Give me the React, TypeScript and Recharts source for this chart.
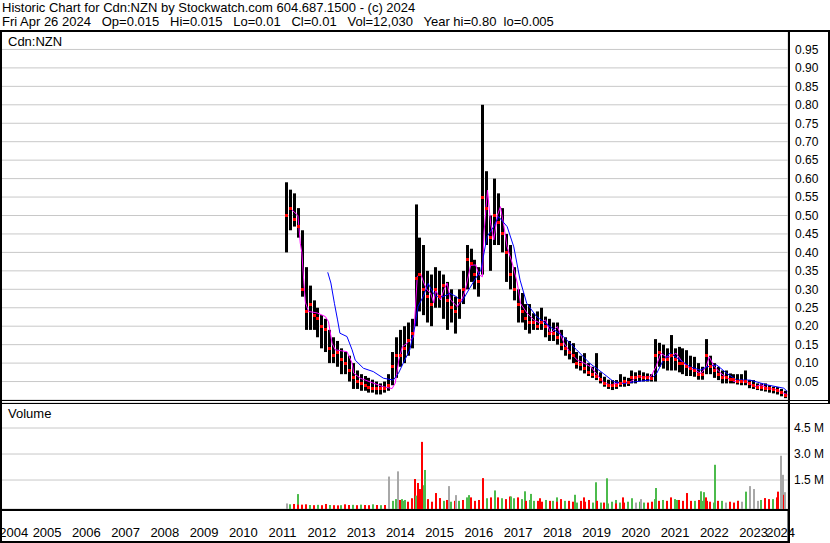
import React from 'react';
import { ComposedChart, Bar, Line, Scatter, XAxis, YAxis, CartesianGrid } from 'recharts';

const FONT = '"Liberation Sans", Arial, Helvetica, sans-serif';

const HEADER_LINE_1 = 'Historic Chart for Cdn:NZN by Stockwatch.com 604.687.1500 - (c) 2024';
const HEADER_LINE_2 = 'Fri Apr 26 2024   Op=0.015   Hi=0.015   Lo=0.01   Cl=0.01   Vol=12,030   Year hi=0.80  lo=0.005';
const PRICE_LABEL = 'Cdn:NZN';
const VOLUME_LABEL = 'Volume';

const T_START = 2004.3;
const T_END = 2024.376;
const YEAR_LINES = [2005, 2006, 2007, 2008, 2009, 2010, 2011, 2012, 2013, 2014, 2015, 2016, 2017, 2018, 2019, 2020, 2021, 2022, 2023, 2024];
const YEAR_LABELS = [2004, 2005, 2006, 2007, 2008, 2009, 2010, 2011, 2012, 2013, 2014, 2015, 2016, 2017, 2018, 2019, 2020, 2021, 2022, 2023, 2024];
const PRICE_TICKS = [0.05, 0.1, 0.15, 0.2, 0.25, 0.3, 0.35, 0.4, 0.45, 0.5, 0.55, 0.6, 0.65, 0.7, 0.75, 0.8, 0.85, 0.9, 0.95];
const VOL_TICKS = [1.5, 3.0, 4.5];
const VOL_MIN = -0.17;
const VOL_MAX = 6;

// price periods (every 0.1 year from 2011.6)
const PERIOD_START = 2011.6;
const PERIOD_STEP = 0.1;
const HIGH = [
  0.59, 0.57, 0.56, 0.52,
  0.46, 0.36, 0.31, 0.27, 0.25, 0.23, 0.22, 0.19, 0.17, 0.16,
  0.14, 0.13, 0.12, 0.10, 0.08, 0.07, 0.065, 0.06, 0.055, 0.05,
  0.045, 0.05, 0.07, 0.13, 0.17, 0.19, 0.20, 0.21, 0.22, 0.53,
  0.44, 0.42, 0.35, 0.34, 0.36, 0.35, 0.34, 0.32, 0.30, 0.28,
  0.30, 0.35, 0.42, 0.41, 0.38, 0.36, 0.80, 0.62, 0.50, 0.60,
  0.56, 0.52, 0.45, 0.42, 0.36, 0.30, 0.29, 0.26, 0.26, 0.235,
  0.24, 0.25, 0.226, 0.22, 0.21, 0.21, 0.19, 0.17, 0.16, 0.154,
  0.13, 0.12, 0.127, 0.10, 0.09, 0.127, 0.075, 0.063, 0.055, 0.054,
  0.054, 0.07, 0.063, 0.06, 0.08, 0.075, 0.08, 0.075, 0.072, 0.07,
  0.165, 0.155, 0.15, 0.14, 0.176, 0.14, 0.144, 0.14, 0.135, 0.12,
  0.117, 0.10, 0.09, 0.165, 0.12, 0.10, 0.09, 0.08, 0.08, 0.072,
  0.07, 0.07, 0.07, 0.08, 0.054, 0.054, 0.045, 0.045, 0.045, 0.04,
  0.036, 0.035, 0.03, 0.025,
];
const LOW = [
  0.40, 0.46, 0.47, 0.44,
  0.28, 0.19, 0.19, 0.19, 0.17, 0.14, 0.13, 0.10, 0.10, 0.09,
  0.07, 0.07, 0.05, 0.03, 0.03, 0.025, 0.025, 0.02, 0.02, 0.015,
  0.015, 0.02, 0.025, 0.04, 0.06, 0.09, 0.10, 0.12, 0.14, 0.20,
  0.24, 0.23, 0.21, 0.20, 0.25, 0.25, 0.22, 0.19, 0.21, 0.18,
  0.22, 0.26, 0.30, 0.32, 0.30, 0.28, 0.34, 0.42, 0.35, 0.42,
  0.42, 0.40, 0.32, 0.30, 0.27, 0.21, 0.21, 0.19, 0.18, 0.19,
  0.19, 0.19, 0.17, 0.16, 0.16, 0.15, 0.135, 0.12, 0.11, 0.10,
  0.085, 0.08, 0.072, 0.065, 0.06, 0.054, 0.045, 0.036, 0.03, 0.027,
  0.03, 0.036, 0.036, 0.038, 0.045, 0.045, 0.05, 0.05, 0.05, 0.05,
  0.05, 0.09, 0.085, 0.08, 0.08, 0.08, 0.075, 0.07, 0.065, 0.065,
  0.063, 0.055, 0.055, 0.07, 0.07, 0.06, 0.054, 0.045, 0.045, 0.045,
  0.045, 0.042, 0.04, 0.04, 0.032, 0.03, 0.027, 0.025, 0.023, 0.02,
  0.018, 0.015, 0.01, 0.005,
];
const CLOSE = [
  0.50, 0.52, 0.49, 0.47,
  0.30, 0.24, 0.26, 0.23, 0.22, 0.20, 0.19, 0.14, 0.12, 0.13,
  0.11, 0.10, 0.08, 0.06, 0.05, 0.045, 0.04, 0.035, 0.03, 0.03,
  0.03, 0.03, 0.04, 0.09, 0.12, 0.12, 0.14, 0.16, 0.18, 0.33,
  0.34, 0.30, 0.28, 0.26, 0.30, 0.28, 0.31, 0.27, 0.25, 0.24,
  0.27, 0.30, 0.38, 0.37, 0.34, 0.32, 0.55, 0.52, 0.44, 0.50,
  0.48, 0.45, 0.40, 0.34, 0.30, 0.26, 0.24, 0.22, 0.21, 0.21,
  0.20, 0.21, 0.20, 0.18, 0.18, 0.17, 0.15, 0.14, 0.13, 0.12,
  0.10, 0.095, 0.085, 0.075, 0.07, 0.065, 0.055, 0.045, 0.04, 0.04,
  0.04, 0.045, 0.05, 0.048, 0.06, 0.06, 0.065, 0.06, 0.06, 0.058,
  0.12, 0.13, 0.11, 0.11, 0.12, 0.11, 0.10, 0.10, 0.09, 0.085,
  0.08, 0.07, 0.07, 0.12, 0.09, 0.08, 0.07, 0.06, 0.06, 0.055,
  0.055, 0.05, 0.05, 0.05, 0.045, 0.04, 0.035, 0.035, 0.032, 0.03,
  0.028, 0.025, 0.02, 0.012,
];

// magenta (short) moving average
const MA_FAST_T = [
  2011.74, 2011.89, 2011.95, 2011.99, 2012.04, 2012.08, 2012.16, 2012.38, 2012.59, 2012.67,
  2012.76, 2012.84, 2013.14, 2013.27, 2013.31, 2013.48, 2013.73, 2014.06, 2014.29, 2014.37,
  2014.46, 2014.55, 2014.67, 2014.84, 2014.93, 2015.01, 2015.10, 2015.18, 2015.27, 2015.35,
  2015.40, 2015.52, 2015.61, 2015.69, 2015.78, 2015.95, 2016.08, 2016.16, 2016.29, 2016.42,
  2016.50, 2016.59, 2016.63, 2016.72, 2016.80, 2016.88, 2016.97, 2017.05, 2017.14, 2017.22,
  2017.35, 2017.48, 2017.56, 2017.73, 2017.90, 2018.07, 2018.20, 2018.33, 2018.50, 2018.67,
  2018.84, 2019.01, 2019.18, 2019.35, 2019.52, 2019.69, 2019.86, 2020.03, 2020.20, 2020.37,
  2020.54, 2020.71, 2020.88, 2021.01, 2021.14, 2021.27, 2021.39, 2021.52, 2021.65, 2021.82,
  2021.99, 2022.16, 2022.29, 2022.37, 2022.50, 2022.67, 2022.84, 2023.01, 2023.18, 2023.35,
  2023.52, 2023.69, 2023.86, 2024.11, 2024.28, 2024.37,
];
const MA_FAST_V = [
  0.515, 0.50, 0.425, 0.40, 0.32, 0.265, 0.24, 0.236, 0.226, 0.212,
  0.154, 0.136, 0.131, 0.10, 0.073, 0.059, 0.049, 0.036, 0.031, 0.046,
  0.108, 0.144, 0.154, 0.171, 0.334, 0.344, 0.317, 0.298, 0.29, 0.263,
  0.298, 0.271, 0.298, 0.317, 0.271, 0.253, 0.275, 0.30, 0.365, 0.366,
  0.34, 0.334, 0.452, 0.569, 0.479, 0.434, 0.50, 0.524, 0.47, 0.415,
  0.371, 0.317, 0.262, 0.235, 0.217, 0.208, 0.217, 0.181, 0.199, 0.154,
  0.127, 0.108, 0.10, 0.09, 0.068, 0.046, 0.041, 0.046, 0.046, 0.05,
  0.063, 0.063, 0.063, 0.09, 0.127, 0.117, 0.117, 0.127, 0.108, 0.09,
  0.081, 0.072, 0.09, 0.117, 0.09, 0.072, 0.059, 0.05, 0.054, 0.047,
  0.036, 0.041, 0.032, 0.027, 0.018, 0.014,
];

// blue (long) moving average
const MA_SLOW_T = [
  2012.65, 2012.73, 2012.82, 2012.90, 2012.96, 2013.14, 2013.27, 2013.35, 2013.56, 2013.81,
  2014.07, 2014.32, 2014.45, 2014.57, 2014.74, 2014.87, 2014.95, 2015.08, 2015.21, 2015.34,
  2015.42, 2015.59, 2015.76, 2015.93, 2016.06, 2016.25, 2016.42, 2016.55, 2016.71, 2016.88,
  2017.00, 2017.22, 2017.39, 2017.55, 2017.72, 2017.97, 2018.31, 2018.65, 2018.99, 2019.33,
  2019.67, 2019.93, 2020.18, 2020.52, 2020.86, 2021.03, 2021.20, 2021.37, 2021.63, 2021.88,
  2022.14, 2022.31, 2022.56, 2022.82, 2023.07, 2023.41, 2023.84, 2024.27, 2024.36,
];
const MA_SLOW_V = [
  0.346, 0.317, 0.262, 0.217, 0.181, 0.172, 0.136, 0.108, 0.086, 0.077,
  0.059, 0.054, 0.072, 0.099, 0.136, 0.199, 0.253, 0.28, 0.316, 0.289,
  0.28, 0.28, 0.289, 0.28, 0.265, 0.30, 0.33, 0.352, 0.443, 0.47,
  0.497, 0.47, 0.415, 0.325, 0.262, 0.226, 0.199, 0.172, 0.136, 0.099,
  0.072, 0.05, 0.045, 0.05, 0.054, 0.072, 0.108, 0.127, 0.108, 0.09,
  0.081, 0.09, 0.095, 0.072, 0.054, 0.054, 0.041, 0.032, 0.023,
];

// volume (millions), background level per period
const BASE_VOL = [
  0.15, 0.10, 0.12, 0.08,
  0.08, 0.10, 0.06, 0.05, 0.07, 0.05, 0.12, 0.06, 0.05, 0.04,
  0.05, 0.10, 0.06, 0.07, 0.05, 0.08, 0.06, 0.05, 0.10, 0.06,
  0.05, 0.06, 0.10, 0.30, 0.40, 0.35, 0.30, 0.25, 0.45, 0.60,
  0.50, 0.35, 0.40, 0.25, 0.30, 0.40, 0.30, 0.35, 0.25, 0.30,
  0.30, 0.35, 0.50, 0.40, 0.30, 0.35, 0.50, 0.45, 0.40, 0.60,
  0.50, 0.45, 0.40, 0.55, 0.45, 0.50, 0.40, 0.30, 0.35, 0.30,
  0.30, 0.25, 0.35, 0.30, 0.30, 0.25, 0.40, 0.30, 0.30, 0.25,
  0.20, 0.30, 0.25, 0.35, 0.20, 0.30, 0.20, 0.20, 0.15, 0.25,
  0.15, 0.20, 0.20, 0.25, 0.30, 0.20, 0.25, 0.20, 0.20, 0.25,
  0.40, 0.30, 0.35, 0.30, 0.30, 0.40, 0.35, 0.30, 0.25, 0.30,
  0.30, 0.35, 0.30, 0.30, 0.25, 0.20, 0.30, 0.20, 0.20, 0.25,
  0.20, 0.30, 0.25, 0.35, 0.30, 0.30, 0.30, 0.35, 0.30, 0.40,
  0.40, 0.50, 0.60, 0.50,
];
const BASE_COL =
  'sgrr' +
  'rrgrgrrgrr' + 'grrgrgrrgr' + 'grgggrgrrg' + 'rgrrgrgrgr' + 'grggrrrgrg' + 'rgrrgrgrgg' +
  'rrgrgrrgrr' + 'grrrgrgrgg' + 'rgrgrsggrr' + 'grgrrgrrgr' + 'grgrrgrgsr' + 'rgsrgrsgrr' +
  'grsr';

// individual tall volume bars
const SPIKE_T = [
  2011.88, 2014.22, 2014.43, 2014.53, 2014.61, 2014.87, 2014.95, 2014.99, 2015.06, 2015.10,
  2015.13, 2015.41, 2015.50, 2015.75, 2015.91, 2016.26, 2016.30, 2016.61, 2016.82, 2016.91,
  2017.31, 2017.67, 2017.84, 2018.07, 2018.48, 2018.94, 2019.17, 2019.48, 2019.76, 2019.99,
  2020.17, 2020.40, 2020.63, 2021.02, 2021.39, 2021.54, 2021.80, 2022.15, 2022.23, 2022.28,
  2022.51, 2022.69, 2023.10, 2023.30, 2023.40, 2023.50, 2023.80, 2024.12, 2024.20, 2024.24,
  2024.27, 2024.31,
];
const SPIKE_V = [
  0.69, 1.7, 2.0, 0.4, 0.35, 1.56, 1.33, 0.98, 3.7, 1.2,
  2.08, 0.75, 0.46, 1.15, 0.63, 0.63, 0.5, 1.61, 0.5, 0.9,
  0.55, 0.85, 0.7, 0.45, 0.5, 0.65, 0.5, 1.37, 1.6, 0.35,
  0.5, 0.45, 0.4, 1.04, 0.5, 0.35, 0.75, 0.85, 0.8, 0.5,
  2.38, 0.3, 0.3, 0.83, 1.15, 0.98, 0.46, 0.83, 2.9, 1.8,
  0.65, 0.8,
];
const SPIKE_C = 'gssggrrrrggrrssgrrrggggrggrgggrgsgrgrggrggrgssrrssrs';

const VOL_COLORS: Record<string, string> = { r: '#ff0000', g: '#4cbb4c', s: '#a8a8a8' };

const periodTime = (i: number) => Math.round((PERIOD_START + i * PERIOD_STEP) * 100) / 100;

const priceRows = HIGH.map((hi, i) => ({ t: periodTime(i), hi, lo: LOW[i], cl: CLOSE[i] }));
const fastRows = MA_FAST_T.map((t, i) => ({ t, v: MA_FAST_V[i] }));
const slowRows = MA_SLOW_T.map((t, i) => ({ t, v: MA_SLOW_V[i] }));
const volRows = [
  ...BASE_VOL.map((v, i) => ({ t: periodTime(i), v, c: BASE_COL[i] })),
  ...SPIKE_T.map((t, i) => ({ t, v: SPIKE_V[i], c: SPIKE_C[i] })),
].sort((a, b) => a.t - b.t);
const labelCells = YEAR_LABELS.map((y) => ({
  t: (Math.max(y, T_START) + Math.min(y + 1, T_END)) / 2,
  label: String(y),
}));
const labelTicks = labelCells.map((c) => c.t);
const labelFor = (v: number) => {
  const cell = labelCells.find((c) => Math.abs(c.t - v) < 1e-6);
  return cell ? cell.label : '';
};

function HiLoShape(p: any) {
  const { x, y, width, height } = p;
  if (x == null || y == null || height == null) return null;
  const top = Math.min(y, y + height);
  const h = Math.max(Math.abs(height), 1);
  const cx = Math.round(x + width / 2 - 1.5);
  return <rect x={cx} y={top} width={3} height={h} fill="#000000" />;
}

function VolShape(p: any) {
  const { x, y, width, height, payload } = p;
  if (x == null || y == null || height == null) return null;
  const top = Math.min(y, y + height);
  const h = Math.max(Math.abs(height), 1);
  const cx = Math.round(x + width / 2 - 1);
  return <rect x={cx} y={top} width={2} height={h} fill={VOL_COLORS[payload.c] || '#a8a8a8'} />;
}

function CloseShape(p: any) {
  const { cx, cy } = p;
  if (cx == null || cy == null) return null;
  return <rect x={Math.round(cx - 1.5)} y={Math.round(cy - 1.5)} width={3} height={3} fill="#ff0000" />;
}

const tickStyle = { fontSize: 12, fill: '#000000', fontFamily: FONT };
const NO_MARGIN = { top: 0, right: 0, bottom: 0, left: 0 };

const FRAME = [
  { left: 0, top: 30, width: 830, height: 2 },
  { left: 0, top: 30, width: 2, height: 513 },
  { left: 0, top: 400, width: 830, height: 1 },
  { left: 0, top: 403, width: 830, height: 1 },
  { left: 788, top: 30, width: 2, height: 513 },
  { left: 828, top: 30, width: 2, height: 374 },
  { left: 0, top: 509, width: 790, height: 2 },
  { left: 0, top: 541, width: 790, height: 2 },
];

export default function App() {
  return (
    <div
      style={{
        position: 'absolute',
        left: 0,
        top: 0,
        width: 830,
        height: 543,
        background: '#ffffff',
        overflow: 'hidden',
        fontFamily: FONT,
        color: '#000000',
      }}
    >
      <div style={{ position: 'absolute', left: 2, top: 1, fontSize: 13, lineHeight: '14px', whiteSpace: 'pre' }}>
        {HEADER_LINE_1}
        <br />
        {HEADER_LINE_2}
      </div>

      {/* price panel */}
      <div style={{ position: 'absolute', left: 0, top: 31 }}>
        <ComposedChart width={830} height={369} data={priceRows} margin={NO_MARGIN}>
          <CartesianGrid stroke="#c8c8c8" />
          <XAxis
            dataKey="t"
            type="number"
            domain={[T_START, T_END]}
            allowDataOverflow
            ticks={YEAR_LINES}
            interval={0}
            height={0}
            tick={false}
            axisLine={false}
            tickLine={false}
          />
          <YAxis
            orientation="right"
            width={42}
            type="number"
            domain={[0, 1]}
            allowDataOverflow
            ticks={PRICE_TICKS}
            interval={0}
            tickFormatter={(v: number) => v.toFixed(2)}
            axisLine={false}
            tickLine={false}
            tickSize={0}
            tickMargin={7}
            tick={tickStyle}
          />
          <Bar dataKey={(d: any) => [d.lo, d.hi]} shape={HiLoShape} isAnimationActive={false} />
          <Scatter dataKey="cl" shape={CloseShape} isAnimationActive={false} />
          <Line data={fastRows} dataKey="v" type="linear" stroke="#ff00ff" strokeWidth={1} dot={false} activeDot={false} isAnimationActive={false} />
          <Line data={slowRows} dataKey="v" type="linear" stroke="#0000ff" strokeWidth={1} dot={false} activeDot={false} isAnimationActive={false} />
        </ComposedChart>
      </div>

      {/* volume panel + year labels */}
      <div style={{ position: 'absolute', left: 0, top: 402 }}>
        <ComposedChart width={830} height={141} data={volRows} margin={NO_MARGIN}>
          <CartesianGrid stroke="#c8c8c8" />
          <XAxis
            dataKey="t"
            type="number"
            domain={[T_START, T_END]}
            allowDataOverflow
            ticks={YEAR_LINES}
            interval={0}
            height={0}
            tick={false}
            axisLine={false}
            tickLine={false}
          />
          <XAxis
            xAxisId="lab"
            dataKey="t"
            type="number"
            domain={[T_START, T_END]}
            allowDataOverflow
            ticks={labelTicks}
            interval={0}
            height={34}
            axisLine={false}
            tickLine={false}
            tickSize={0}
            tickMargin={19}
            tickFormatter={labelFor}
            tick={{ fontSize: 13, fill: '#000000', fontFamily: FONT }}
          />
          <YAxis
            orientation="right"
            width={42}
            type="number"
            domain={[VOL_MIN, VOL_MAX]}
            allowDataOverflow
            ticks={VOL_TICKS}
            interval={0}
            tickFormatter={(v: number) => `${v.toFixed(1)} M`}
            axisLine={false}
            tickLine={false}
            tickSize={0}
            tickMargin={6}
            tick={tickStyle}
          />
          <Bar dataKey={(d: any) => [VOL_MIN, d.v]} shape={VolShape} isAnimationActive={false} />
        </ComposedChart>
      </div>

      {/* year separators in the label band */}
      <div style={{ position: 'absolute', left: 0, top: 509 }}>
        <ComposedChart width={830} height={32} data={labelCells} margin={NO_MARGIN}>
          <CartesianGrid stroke="#000000" horizontal={false} />
          <XAxis
            dataKey="t"
            type="number"
            domain={[T_START, T_END]}
            allowDataOverflow
            ticks={YEAR_LINES}
            interval={0}
            height={0}
            tick={false}
            axisLine={false}
            tickLine={false}
          />
          <YAxis orientation="right" width={42} domain={[0, 1]} tick={false} axisLine={false} tickLine={false} />
        </ComposedChart>
      </div>

      <div style={{ position: 'absolute', left: 8, top: 35, fontSize: 13, lineHeight: '14px' }}>{PRICE_LABEL}</div>
      <div style={{ position: 'absolute', left: 8, top: 407, fontSize: 13, lineHeight: '14px' }}>{VOLUME_LABEL}</div>

      {FRAME.map((f, i) => (
        <div key={i} style={{ position: 'absolute', background: '#000000', ...f }} />
      ))}
    </div>
  );
}
